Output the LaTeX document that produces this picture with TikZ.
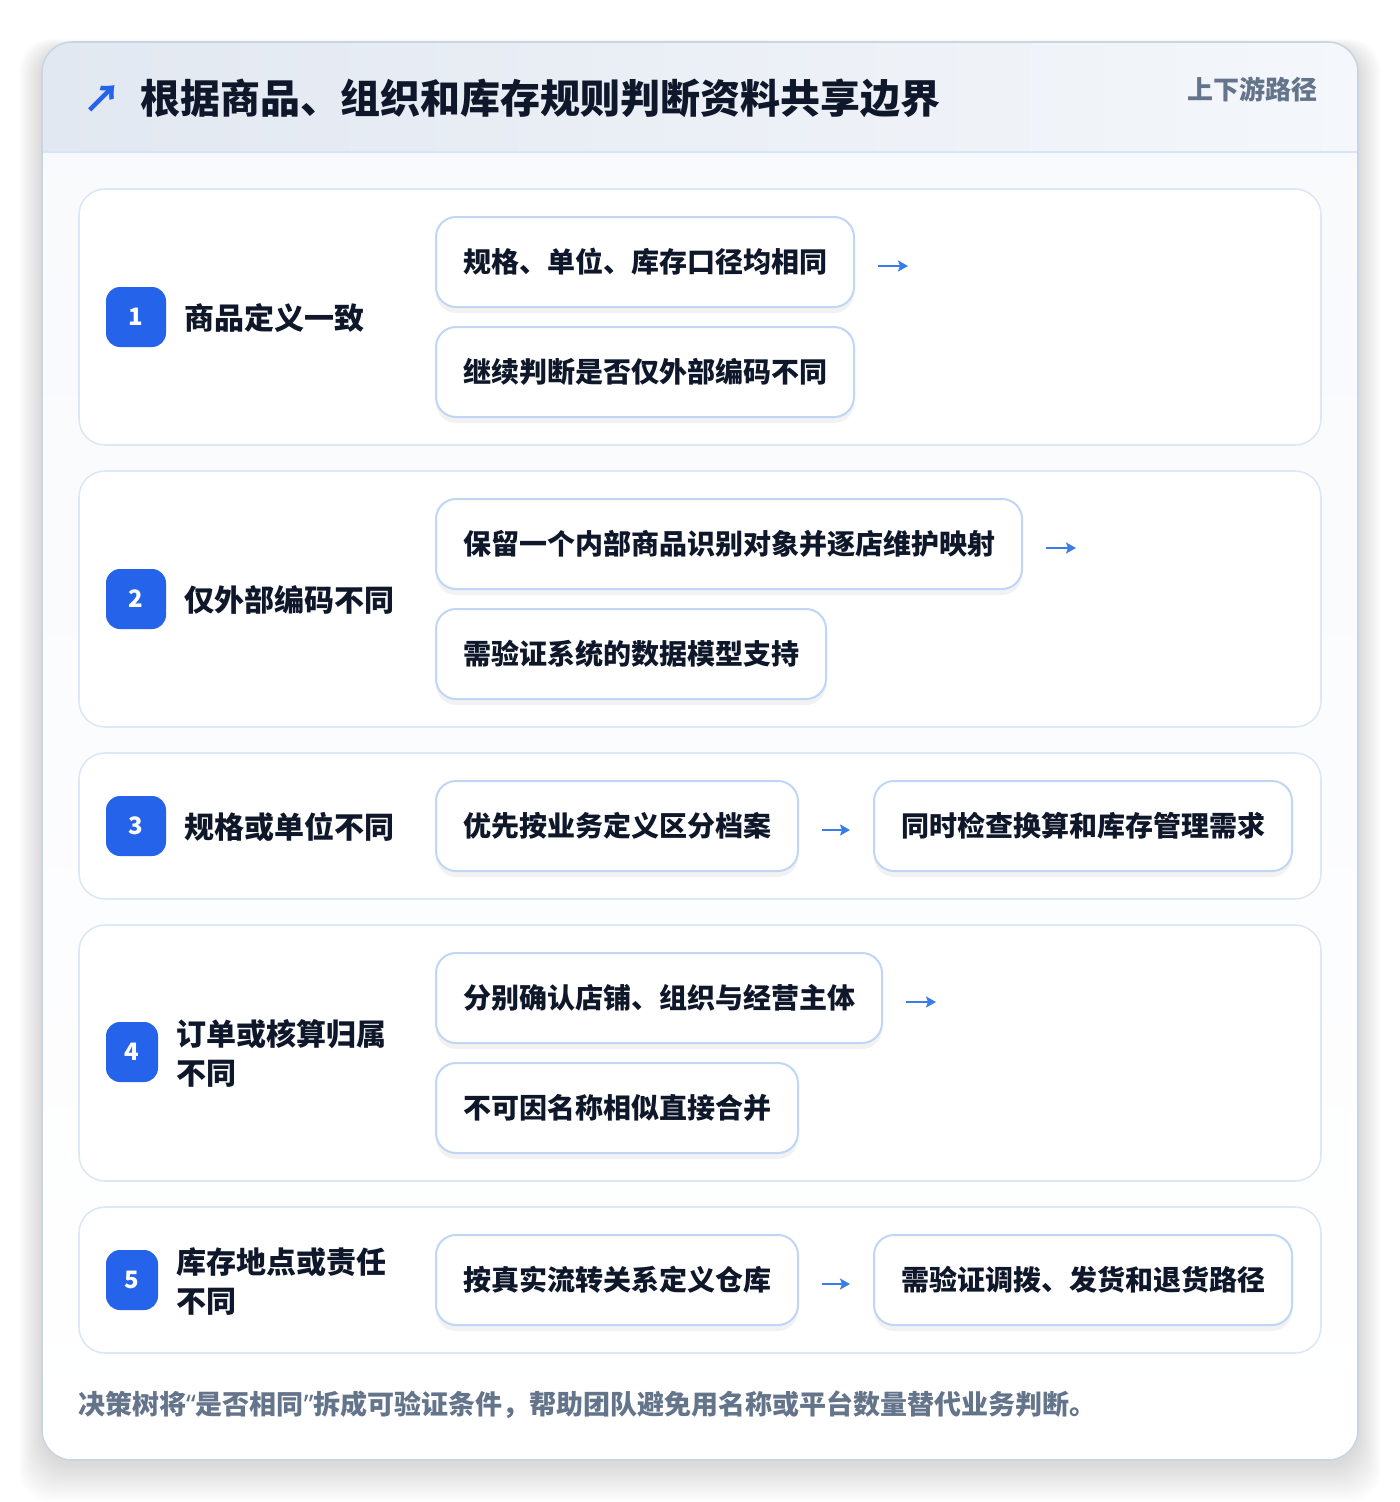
\documentclass[tikz,border=0pt]{standalone}
\usepackage{fontspec}
\setmainfont{Noto Sans CJK SC}
\newfontfamily\latinq{Noto Sans}
\usetikzlibrary{shadows,arrows.meta}
\definecolor{ink}{HTML}{0F172A}
\definecolor{muted}{HTML}{64748B}
\definecolor{cardline}{HTML}{CBD5E1}
\definecolor{hdrL}{HTML}{E2E8F1}
\definecolor{hdrR}{HTML}{F4F7FB}
\definecolor{hdrline}{HTML}{D8E5F5}
\definecolor{bodytop}{HTML}{F7F9FC}
\definecolor{rowline}{HTML}{DCE8F8}
\definecolor{boxline}{HTML}{BFD6F6}
\definecolor{badgeblue}{HTML}{2563EB}
\definecolor{arrowblue}{HTML}{3B7DE6}
\newcommand{\fsz}[1]{\fontsize{#1}{#1}\selectfont}
\tikzset{
  rowbox/.style={draw=rowline, line width=1.6pt, fill=white, rounded corners=26pt},
  stepbox/.style={draw=boxline, line width=2pt, fill=white, rounded corners=20pt,
    minimum height=90pt, inner xsep=27pt, inner ysep=0pt, anchor=west, text=ink,
    font=\bfseries\fsz{28},
    drop shadow={shadow xshift=0pt, shadow yshift=-6pt, opacity=0.05, fill=black}},
  badge/.style={fill=badgeblue, rounded corners=14pt, minimum width=60pt,
    minimum height=60pt, inner sep=0pt, text=white, font=\bfseries\fsz{24}},
  badgeN/.style={badge, minimum width=52pt},
  lbl/.style={anchor=west, text=ink, align=left, inner sep=0pt,
    font=\bfseries\fontsize{30}{39}\selectfont},
  flow/.style={draw=arrowblue, line width=2.6pt,
    -{Stealth[length=10pt, width=11pt, inset=2pt]}},
}
\begin{document}
\begin{tikzpicture}[x=1pt,y=-1pt]
\useasboundingbox[fill=white] (0,0) rectangle (1400,1502);
% card shadow
\foreach \i in {1,...,18}{
  \fill[black, opacity=0.006, rounded corners=32pt]
    (42-\i*1.3, 48-\i*0.5) rectangle (1358+\i*1.3, 1464+\i*2.1);
}
% card
\path[shade, top color=bodytop, bottom color=white, rounded corners=30pt]
  (42,42) rectangle (1358,1460);
\begin{scope}
  \clip[rounded corners=30pt] (42,42) rectangle (1358,1460);
  \shade[left color=hdrL, right color=hdrR] (42,42) rectangle (1358,152);
\end{scope}
\draw[hdrline, line width=1.6pt] (42,152) -- (1358,152);
\draw[cardline, line width=1.6pt, rounded corners=30pt] (42,42) rectangle (1358,1460);
% header
\node[text=badgeblue, font=\bfseries\fsz{38}, inner sep=0pt] (icon) at (102,99) {↗};
\node[anchor=west, text=ink, font=\bfseries\fsz{40}, inner sep=0pt] (title) at (140,98)
  {根据商品、组织和库存规则判断资料共享边界};
\node[anchor=east, text=muted, font=\bfseries\fsz{26}, inner sep=0pt] (tag) at (1318,89)
  {上下游路径};
% rows
\path[rowbox] (79,189) rectangle (1321,445);
\path[rowbox] (79,471) rectangle (1321,727);
\path[rowbox] (79,753) rectangle (1321,899);
\path[rowbox] (79,925) rectangle (1321,1181);
\path[rowbox] (79,1207) rectangle (1321,1353);
% row 1
\node[badge] (b1) at (136,317) {1};
\node[lbl] (l1) at (184,318) {商品定义一致};
\node[stepbox] (a1) at (435,262) {规格、单位、库存口径均相同};
\coordinate (e1) at ([shift={(53,4)}]a1.east);
\node[stepbox] (c1) at (435,372) {继续判断是否仅外部编码不同};
\draw[flow, shorten <=23pt] ([yshift=-4pt]a1.east) -- (e1);
% row 2
\node[badge] (b2) at (136,599) {2};
\node[lbl] (l2) at (184,600) {仅外部编码不同};
\node[stepbox] (a2) at (435,544) {保留一个内部商品识别对象并逐店维护映射};
\coordinate (e2) at ([shift={(53,4)}]a2.east);
\node[stepbox] (c2) at (435,654) {需验证系统的数据模型支持};
\draw[flow, shorten <=23pt] ([yshift=-4pt]a2.east) -- (e2);
% row 3
\node[badge] (b3) at (136,826) {3};
\node[lbl] (l3) at (184,827) {规格或单位不同};
\node[stepbox] (a3) at (435,826) {优先按业务定义区分档案};
\node[stepbox] (c3) at (873,826) {同时检查换算和库存管理需求};
\draw[flow, shorten <=23pt, shorten >=23pt] ([yshift=-4pt]a3.east) -- ([yshift=-4pt]c3.west);
% row 4
\node[badgeN] (b4) at (132,1052) {4};
\node[lbl] (l4) at (176,1053) {订单或核算归属\\不同};
\node[stepbox] (a4) at (435,998) {分别确认店铺、组织与经营主体};
\coordinate (e4) at ([shift={(53,4)}]a4.east);
\node[stepbox] (c4) at (435,1108) {不可因名称相似直接合并};
\draw[flow, shorten <=23pt] ([yshift=-4pt]a4.east) -- (e4);
% row 5
\node[badgeN] (b5) at (132,1280) {5};
\node[lbl] (l5) at (176,1281) {库存地点或责任\\不同};
\node[stepbox] (a5) at (435,1280) {按真实流转关系定义仓库};
\node[stepbox] (c5) at (873,1280) {需验证调拨、发货和退货路径};
\draw[flow, shorten <=23pt, shorten >=23pt] ([yshift=-4pt]a5.east) -- ([yshift=-4pt]c5.west);
% footer
\node[anchor=west, text=muted, font=\bfseries\fsz{27}, inner sep=0pt] (foot) at (78,1405)
  {决策树将{\latinq “}是否相同{\latinq ”}拆成可验证条件，帮助团队避免用名称或平台数量替代业务判断。};
\end{tikzpicture}
\end{document}
